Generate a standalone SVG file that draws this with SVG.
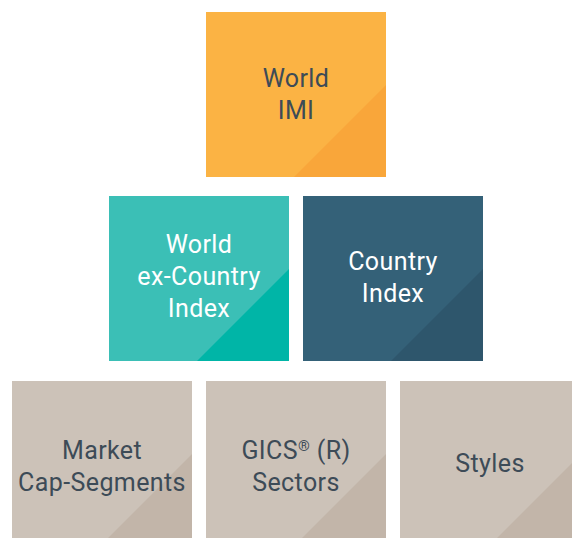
<svg xmlns="http://www.w3.org/2000/svg" width="572" height="538" viewBox="0 0 572 538">
<style>
text{font-family:Roboto,"Liberation Sans",sans-serif;font-size:25px;letter-spacing:0.4px;text-anchor:middle}
.dk{fill:#3d4b57}.wt{fill:#ffffff}
.o1{fill:#fbb344}.o2{fill:#f9a63a}
.t1{fill:#3bbfb6}.t2{fill:#00b5a7}
.b1{fill:#346178}.b2{fill:#2e566c}
.g1{fill:#ccc2b8}.g2{fill:#c2b5a9}
.sup{font-size:15px}
</style>
<rect width="572" height="538" fill="#ffffff"/>
<g id="world-imi">
<rect class="o1" x="206" y="12" width="180" height="165"/>
<polygon class="o2" points="386,85 386,177 294,177"/>
<text class="dk" x="296" y="87">World</text>
<text class="dk" x="296" y="119">IMI</text>
</g>
<g id="world-ex-country">
<rect class="t1" x="109" y="196" width="180" height="165"/>
<polygon class="t2" points="289,269 289,361 197,361"/>
<text class="wt" x="199" y="253">World</text>
<text class="wt" x="199" y="285">ex-Country</text>
<text class="wt" x="199" y="317">Index</text>
</g>
<g id="country-index">
<rect class="b1" x="303" y="196" width="180" height="165"/>
<polygon class="b2" points="483,269 483,361 391,361"/>
<text class="wt" x="393" y="270">Country</text>
<text class="wt" x="393" y="302">Index</text>
</g>
<g id="market-cap">
<rect class="g1" x="12" y="381" width="180" height="157"/>
<polygon class="g2" points="192,454 192,538 108,538"/>
<text class="dk" x="102" y="459">Market</text>
<text class="dk" x="102" y="491">Cap-Segments</text>
</g>
<g id="gics">
<rect class="g1" x="206" y="381" width="180" height="157"/>
<polygon class="g2" points="386,454 386,538 302,538"/>
<text class="dk" x="296" y="459">GICS<tspan class="sup" dy="-8">®</tspan><tspan dy="8"> (R)</tspan></text>
<text class="dk" x="296" y="491">Sectors</text>
</g>
<g id="styles">
<rect class="g1" x="400" y="381" width="180" height="157"/>
<polygon class="g2" points="580,455 580,538 497,538"/>
<text class="dk" x="490" y="472">Styles</text>
</g>
<g id="connectors"></g>
</svg>
